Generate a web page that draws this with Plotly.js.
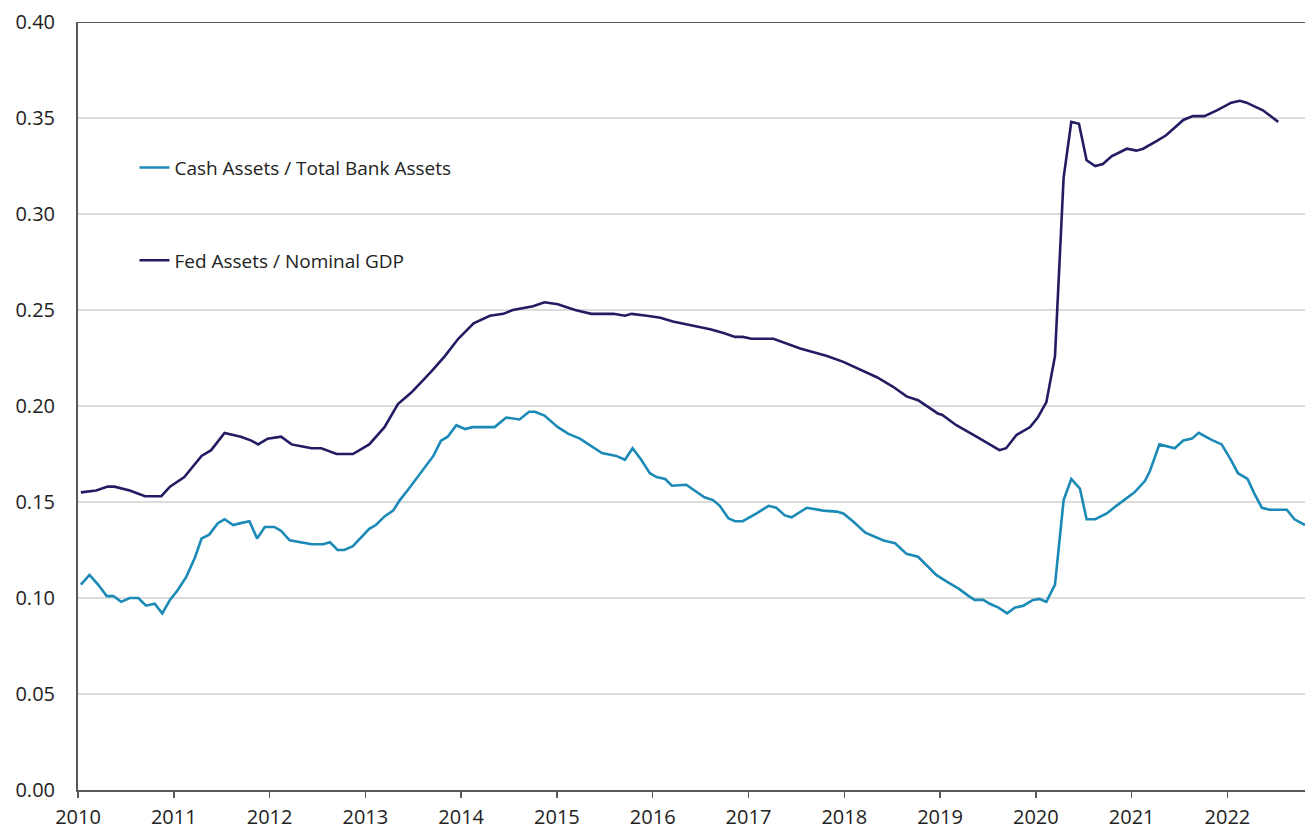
<!DOCTYPE html>
<html>
<head>
<meta charset="utf-8">
<script src="https://cdn.plot.ly/plotly-3.0.1.min.js"></script>
<style>
  html, body { margin: 0; padding: 0; background: #ffffff; }
  #chart { width: 1305px; height: 831px; }
</style>
</head>
<body>
<div id="chart"></div>
<script>
// Fed Assets / Nominal GDP (decimal years, ratio)
const fedYears = [2010.03,2010.19,2010.31,2010.38,2010.54,2010.70,2010.87,2010.96,2011.11,2011.29,2011.39,2011.53,2011.70,2011.81,2011.88,2011.98,2012.12,2012.23,2012.33,2012.44,2012.54,2012.70,2012.87,2013.04,2013.20,2013.34,2013.48,2013.69,2013.83,2013.97,2014.13,2014.30,2014.44,2014.54,2014.75,2014.87,2015.01,2015.19,2015.36,2015.59,2015.71,2015.78,2015.94,2016.08,2016.21,2016.42,2016.60,2016.74,2016.86,2016.94,2017.03,2017.26,2017.43,2017.54,2017.68,2017.82,2017.99,2018.16,2018.34,2018.51,2018.65,2018.77,2018.98,2019.02,2019.17,2019.38,2019.62,2019.69,2019.80,2019.94,2020.02,2020.11,2020.20,2020.29,2020.37,2020.45,2020.53,2020.62,2020.70,2020.79,2020.95,2021.05,2021.12,2021.26,2021.36,2021.54,2021.64,2021.76,2021.89,2022.04,2022.13,2022.20,2022.37,2022.53];
const fedValues = [0.155,0.156,0.158,0.158,0.156,0.153,0.153,0.158,0.163,0.174,0.177,0.186,0.184,0.182,0.180,0.183,0.184,0.180,0.179,0.178,0.178,0.175,0.175,0.180,0.189,0.201,0.207,0.218,0.226,0.235,0.243,0.247,0.248,0.250,0.252,0.254,0.253,0.250,0.248,0.248,0.247,0.248,0.247,0.246,0.244,0.242,0.240,0.238,0.236,0.236,0.235,0.235,0.232,0.230,0.228,0.226,0.223,0.219,0.215,0.210,0.205,0.203,0.196,0.1955,0.190,0.184,0.177,0.178,0.185,0.189,0.194,0.202,0.226,0.319,0.348,0.347,0.328,0.325,0.326,0.330,0.334,0.333,0.334,0.338,0.341,0.349,0.351,0.351,0.354,0.358,0.359,0.358,0.354,0.348];

// Cash Assets / Total Bank Assets (decimal years, ratio)
const cashYears = [2010.03,2010.12,2010.21,2010.30,2010.37,2010.45,2010.54,2010.63,2010.71,2010.80,2010.88,2010.96,2011.04,2011.13,2011.22,2011.29,2011.37,2011.46,2011.53,2011.62,2011.70,2011.79,2011.87,2011.95,2012.05,2012.12,2012.21,2012.31,2012.44,2012.56,2012.63,2012.71,2012.78,2012.87,2012.96,2013.04,2013.11,2013.20,2013.29,2013.36,2013.44,2013.53,2013.62,2013.71,2013.79,2013.86,2013.95,2014.04,2014.12,2014.35,2014.47,2014.61,2014.71,2014.77,2014.87,2014.93,2015.01,2015.12,2015.24,2015.47,2015.62,2015.71,2015.79,2015.88,2015.97,2016.04,2016.13,2016.20,2016.35,2016.54,2016.63,2016.70,2016.79,2016.86,2016.94,2017.08,2017.21,2017.29,2017.38,2017.45,2017.61,2017.78,2017.92,2017.99,2018.09,2018.22,2018.32,2018.41,2018.53,2018.65,2018.77,2018.86,2018.96,2019.07,2019.19,2019.30,2019.36,2019.45,2019.52,2019.61,2019.70,2019.78,2019.87,2019.97,2020.04,2020.11,2020.20,2020.29,2020.37,2020.46,2020.53,2020.62,2020.74,2020.84,2020.95,2021.03,2021.14,2021.19,2021.29,2021.45,2021.54,2021.63,2021.70,2021.83,2021.94,2022.03,2022.11,2022.21,2022.28,2022.36,2022.44,2022.62,2022.70,2022.81];
const cashValues = [0.107,0.112,0.107,0.101,0.101,0.098,0.100,0.100,0.096,0.097,0.092,0.099,0.104,0.111,0.121,0.131,0.133,0.139,0.141,0.138,0.139,0.140,0.131,0.137,0.137,0.135,0.130,0.129,0.128,0.128,0.129,0.125,0.125,0.127,0.132,0.136,0.138,0.1425,0.1455,0.151,0.156,0.162,0.168,0.174,0.182,0.184,0.190,0.188,0.189,0.189,0.194,0.193,0.197,0.197,0.195,0.1925,0.189,0.1855,0.183,0.1755,0.174,0.172,0.178,0.172,0.165,0.163,0.162,0.1585,0.159,0.1525,0.151,0.148,0.1415,0.140,0.140,0.144,0.148,0.147,0.143,0.142,0.147,0.1455,0.145,0.144,0.140,0.134,0.132,0.130,0.1285,0.123,0.1215,0.117,0.112,0.1085,0.105,0.101,0.099,0.099,0.097,0.095,0.092,0.095,0.096,0.099,0.0995,0.098,0.107,0.151,0.162,0.157,0.141,0.141,0.144,0.148,0.152,0.155,0.161,0.166,0.180,0.178,0.182,0.183,0.186,0.1825,0.180,0.1725,0.165,0.162,0.1545,0.147,0.146,0.146,0.141,0.138];

const yearTicks = [2010,2011,2012,2013,2014,2015,2016,2017,2018,2019,2020,2021,2022];
const yearLabels = ['2010','2011','2012','2013','2014','2015','2016','2017','2018','2019','2020','2021','2022'];
const yTicks = [0,0.05,0.10,0.15,0.20,0.25,0.30,0.35,0.40];

const seriesNames = ['Cash Assets / Total Bank Assets', 'Fed Assets / Nominal GDP'];

const traces = [
  {
    x: cashYears, y: cashValues, type: 'scatter', mode: 'lines',
    name: seriesNames[0], legendgroup: 'a',
    line: { color: '#1B8AB6', width: 2.6 }
  },
  {
    x: fedYears, y: fedValues, type: 'scatter', mode: 'lines',
    name: seriesNames[1], legendgroup: 'b',
    line: { color: '#221D62', width: 2.6 }
  }
];

const layout = {
  width: 1305, height: 831,
  margin: { l: 78, r: 0, t: 22, b: 41 },
  paper_bgcolor: '#ffffff', plot_bgcolor: '#ffffff',
  font: { family: 'Open Sans, sans-serif', color: '#222222' },
  showlegend: true,
  legend: {
    x: 0.046, y: 0.835, xanchor: 'left', yanchor: 'top',
    bgcolor: 'rgba(0,0,0,0)', borderwidth: 0,
    font: { family: 'Open Sans, sans-serif', size: 19, color: '#222222' },
    tracegroupgap: 65, traceorder: 'grouped'
  },
  xaxis: {
    range: [2010, 2022.81], tickmode: 'array', tickvals: yearTicks, ticktext: yearLabels,
    showgrid: false, zeroline: false, showline: true, linecolor: '#595959', linewidth: 2,
    ticks: 'outside', ticklen: 6, tickwidth: 1.5, tickcolor: '#595959',
    tickfont: { family: 'Open Sans, sans-serif', size: 20, color: '#222222' },
    ticklabelstandoff: 2, fixedrange: true
  },
  yaxis: {
    range: [0, 0.4], tickmode: 'array', tickvals: yTicks, tickformat: '.2f',
    showgrid: true, gridcolor: '#dcdcdc', gridwidth: 1.5,
    zeroline: false, showline: true, linecolor: '#595959', linewidth: 2,
    ticks: '', tickfont: { family: 'Open Sans, sans-serif', size: 20, color: '#222222' },
    ticklabelstandoff: 17, fixedrange: true
  },
  shapes: [
    { type: 'line', xref: 'paper', yref: 'y', x0: 0, x1: 1, y0: 0.4, y1: 0.4,
      line: { color: '#595959', width: 2 }, layer: 'above' }
  ]
};

Plotly.newPlot('chart', traces, layout, { displayModeBar: false, staticPlot: true });
</script>
</body>
</html>
